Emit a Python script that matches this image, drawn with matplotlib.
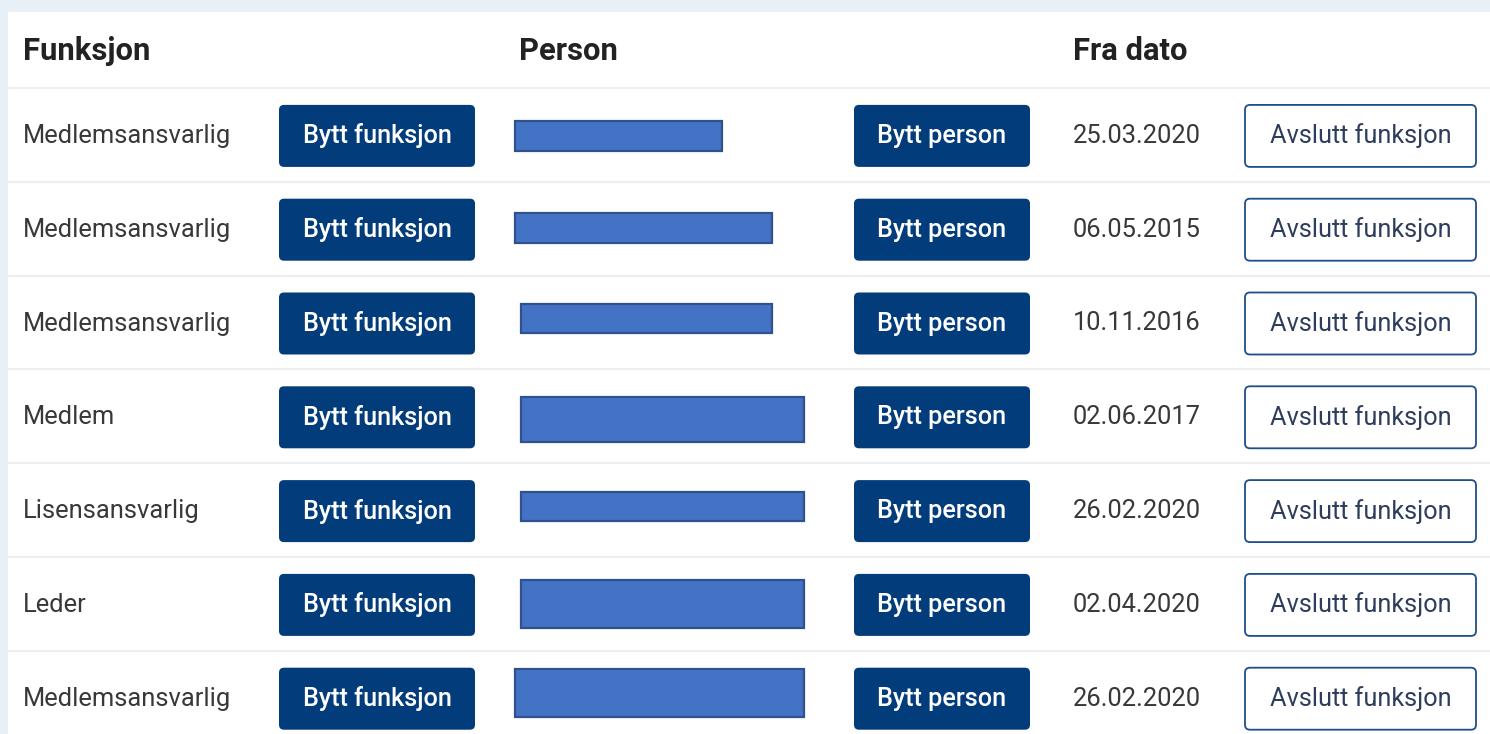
"""Member roles table (Funksjon / Person / Fra dato) redrawn with matplotlib."""

import matplotlib

matplotlib.use("Agg")
import matplotlib.pyplot as plt
from matplotlib.patches import FancyBboxPatch, Rectangle

plt.rcParams["font.family"] = ["Roboto", "DejaVu Sans"]

W, H = 1490, 734

# table content
headers = ["Funksjon", "Person", "Fra dato"]
functions = ["Medlemsansvarlig", "Medlemsansvarlig", "Medlemsansvarlig", "Medlem",
             "Lisensansvarlig", "Leder", "Medlemsansvarlig"]
dates = ["25.03.2020", "06.05.2015", "10.11.2016", "02.06.2017",
         "26.02.2020", "02.04.2020", "26.02.2020"]
btn_change_func = "Bytt funksjon"
btn_change_person = "Bytt person"
btn_end_func = "Avslutt funksjon"

# redaction boxes over the person names (pixels, relative to row centre)
red_left = [515, 515, 521, 521, 521, 521, 515]
red_right = [722, 772, 772, 804, 804, 804, 804]
red_top = [-15, -17, -20, -20, -19, -25, -30]
red_bottom = [15, 13, 9, 25, 10, 23, 18]

NAVY = "#033c7b"
TEXT = "#383838"
HEAD = "#222222"
LINE = "#eeeeee"

fig = plt.figure(figsize=(W / 100, H / 100), dpi=100)
fig.patch.set_facecolor("#e8f0f7")
ax = fig.add_axes([0, 0, 1, 1])
ax.set_xlim(0, W)
ax.set_ylim(H, 0)
ax.axis("off")

# white card
ax.add_patch(Rectangle((8, 12), W - 8, H - 12, facecolor="white", edgecolor="none"))

# header
head_x = [23, 519, 1073]
for x, label in zip(head_x, headers):
    ax.text(x, 51, label, fontsize=22.3, fontweight="bold", color=HEAD,
            ha="left", va="center")

row_h = 93.8
first_sep = 88


def button(x0, x1, yc, label, filled):
    h = 62
    face = NAVY if filled else "white"
    edge = NAVY if filled else "#1f4e88"
    ax.add_patch(FancyBboxPatch((x0, yc - h / 2), x1 - x0, h,
                                boxstyle="round,pad=0,rounding_size=5",
                                facecolor=face, edgecolor=edge,
                                linewidth=0 if filled else 1.3))
    ax.text((x0 + x1) / 2, yc, label, fontsize=18.2,
            fontweight="medium" if filled else "normal",
            color="white" if filled else "#2e3d5c", ha="center", va="center")


for i, func in enumerate(functions):
    top = first_sep + i * row_h
    yc = top + row_h / 2 + 1
    ax.plot([8, W], [top, top], color=LINE, lw=1.6, solid_capstyle="butt")

    ax.text(23, yc, func, fontsize=18.4, color=TEXT, ha="left", va="center")
    button(279, 475, yc, btn_change_func, True)

    ax.add_patch(Rectangle((red_left[i], yc + red_top[i]),
                           red_right[i] - red_left[i], red_bottom[i] - red_top[i],
                           facecolor="#4472c4", edgecolor="#2f528f", linewidth=1.6))

    button(854, 1030, yc, btn_change_person, True)
    ax.text(1073, yc, dates[i], fontsize=18.4, color=TEXT, ha="left", va="center")
    button(1245, 1476, yc, btn_end_func, False)

fig.savefig("out.png", dpi=100, facecolor=fig.get_facecolor())
